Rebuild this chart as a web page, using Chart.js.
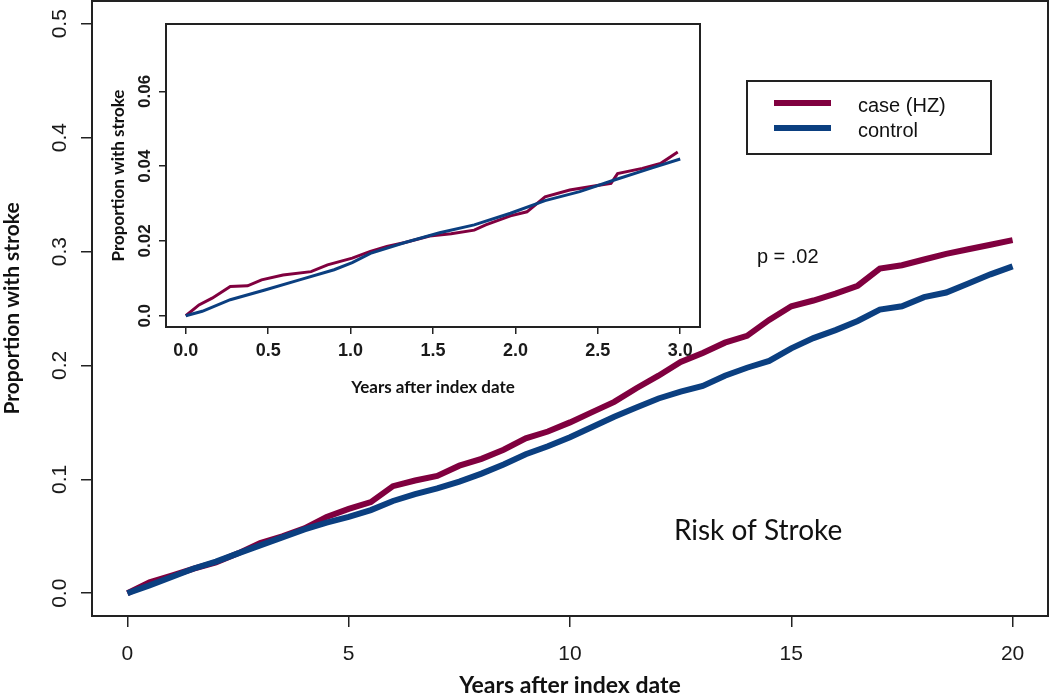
<!DOCTYPE html>
<html>
<head>
<meta charset="utf-8">
<title>Risk of Stroke</title>
<script src="https://cdn.jsdelivr.net/npm/chart.js@4.4.1/dist/chart.umd.min.js"></script>
<style>
    body { margin: 0; background: #fff; }
    #wrap { position: relative; width: 1050px; height: 697px; }
    #main { position: absolute; left: 0; top: 0; }
    #inset { position: absolute; left: 100px; top: 15px; }
</style>
</head>
<body>
<div id="wrap">
    <canvas id="main" width="1050" height="697"></canvas>
    <canvas id="inset" width="610" height="390"></canvas>
</div>
<script>
// main plot, 0-20 years
const years = [0, 0.5, 1, 1.5, 2, 2.5, 3, 3.5, 4, 4.5, 5, 5.5, 6, 6.5, 7, 7.5, 8, 8.5, 9, 9.5,
    10, 10.5, 11, 11.5, 12, 12.5, 13, 13.5, 14, 14.5, 15, 15.5, 16, 16.5, 17, 17.5, 18, 18.5, 19, 19.5, 20];
const caseHZ = [0, 0.0096, 0.0154, 0.0215, 0.027, 0.035, 0.044, 0.050, 0.057, 0.067, 0.074, 0.080, 0.094, 0.099,
    0.103, 0.112, 0.118, 0.126, 0.136, 0.142, 0.150, 0.159, 0.168, 0.180, 0.191, 0.203, 0.211, 0.220, 0.226,
    0.240, 0.252, 0.257, 0.263, 0.270, 0.285, 0.288, 0.293, 0.298, 0.302, 0.306, 0.310];
const control = [0, 0.0069, 0.0142, 0.0217, 0.0277, 0.035, 0.042, 0.049, 0.056, 0.062, 0.067, 0.073, 0.081, 0.087,
    0.092, 0.098, 0.105, 0.113, 0.122, 0.129, 0.137, 0.146, 0.155, 0.163, 0.171, 0.177, 0.182, 0.191, 0.198,
    0.204, 0.215, 0.224, 0.231, 0.239, 0.249, 0.252, 0.260, 0.264, 0.272, 0.280, 0.287];

// inset, first 3 years
const insetCaseYears = [0, 0.08, 0.16, 0.27, 0.375, 0.46, 0.59, 0.76, 0.86, 1.01, 1.12, 1.22, 1.33, 1.48, 1.61,
    1.75, 1.82, 1.97, 2.07, 2.18, 2.33, 2.45, 2.58, 2.62, 2.77, 2.88, 2.985];
const insetCase = [0, 0.0029, 0.0047, 0.0078, 0.008, 0.0096, 0.0109, 0.0118, 0.0136, 0.0154, 0.0172, 0.0185,
    0.0196, 0.0213, 0.0219, 0.0229, 0.0243, 0.0267, 0.0278, 0.0318, 0.0336, 0.0345, 0.0354, 0.038, 0.0394,
    0.0407, 0.0438];
const insetCtrlYears = [0, 0.1, 0.27, 0.48, 0.69, 0.9, 1.01, 1.12, 1.33, 1.54, 1.75, 1.97, 2.18, 2.39, 2.6, 2.82, 3.0];
const insetCtrl = [0, 0.0012, 0.0043, 0.0069, 0.0096, 0.0123, 0.0142, 0.0167, 0.0196, 0.0222, 0.0243, 0.0274,
    0.0308, 0.0332, 0.0363, 0.0394, 0.0419];

const xTicks = [0, 5, 10, 15, 20];
const yTicks = [0, 0.1, 0.2, 0.3, 0.4, 0.5];
const insetXTicks = [0, 0.5, 1, 1.5, 2, 2.5, 3];
const insetYTicks = [0, 0.02, 0.04, 0.06];

const seriesNames = ["case (HZ)", "control"];
const CASE_COLOR = "#80003f";
const CTRL_COLOR = "#0b3f80";

function pts(xs, ys) {
    return xs.map((x, i) => ({ x: x, y: ys[i] }));
}

function makeAxis(min, max, ticks, fmt, o) {
    return {
        type: "linear",
        min: min,
        max: max,
        afterBuildTicks: s => { s.ticks = ticks.map(v => ({ value: v })); },
        afterFit: s => {
            if (o.width) s.width = o.width;
            if (o.height) s.height = o.height;
            // no extra room for end labels, plot box is placed by layout padding
            s.paddingTop = 0;
            s.paddingBottom = 0;
            s.paddingLeft = 0;
            s.paddingRight = 0;
        },
        border: { display: false },
        grid: {
            drawOnChartArea: false,
            drawTicks: true,
            tickLength: o.tickLength,
            color: "#222",
            lineWidth: 1.5
        },
        ticks: {
            autoSkip: false,
            minRotation: o.rotate ? 90 : 0,
            maxRotation: o.rotate ? 90 : 0,
            crossAlign: o.rotate ? "center" : "near",
            padding: o.pad,
            color: "#1a1a1a",
            font: o.font,
            callback: v => fmt(v)
        },
        title: {
            display: true,
            text: o.title,
            color: "#111",
            font: o.titleFont,
            padding: o.titlePad
        }
    };
}

const boxPlugin = {
    id: "box",
    afterDraw(chart) {
        const a = chart.chartArea;
        const ctx = chart.ctx;
        ctx.save();
        ctx.strokeStyle = "#222";
        ctx.lineWidth = 2;
        ctx.strokeRect(a.left, a.top, a.right - a.left, a.bottom - a.top);
        ctx.restore();
    }
};

const notesPlugin = {
    id: "notes",
    afterDraw(chart) {
        const ctx = chart.ctx;
        ctx.save();

        // legend box
        ctx.strokeStyle = "#222";
        ctx.lineWidth = 2;
        ctx.strokeRect(747, 81, 244, 73);
        chart.data.datasets.forEach((ds, i) => {
            const y = 103 + i * 25;
            ctx.strokeStyle = ds.borderColor;
            ctx.lineWidth = 6;
            ctx.beginPath();
            ctx.moveTo(774, y);
            ctx.lineTo(831, y);
            ctx.stroke();
            ctx.fillStyle = "#111";
            ctx.font = "20px 'Liberation Sans', Arial, sans-serif";
            ctx.textAlign = "left";
            ctx.textBaseline = "middle";
            ctx.fillText(ds.label, 858, y + 3);
        });

        const xs = chart.scales.x, ys = chart.scales.y;
        ctx.fillStyle = "#111";
        ctx.textAlign = "center";
        ctx.textBaseline = "middle";
        ctx.font = "20px 'Liberation Sans', Arial, sans-serif";
        ctx.fillText("p = .02", xs.getPixelForValue(14.92), ys.getPixelForValue(0.295));
        ctx.font = "28px Lato, sans-serif";
        ctx.fillText("Risk of Stroke", xs.getPixelForValue(14.25), ys.getPixelForValue(0.055));
        ctx.restore();
    }
};

new Chart(document.getElementById("main"), {
    type: "line",
    data: {
        datasets: [
            {
                label: seriesNames[0],
                data: pts(years, caseHZ),
                borderColor: CASE_COLOR,
                borderWidth: 6,
                pointRadius: 0,
                order: 1
            },
            {
                label: seriesNames[1],
                data: pts(years, control),
                borderColor: CTRL_COLOR,
                borderWidth: 6,
                pointRadius: 0,
                order: 0
            }
        ]
    },
    options: {
        responsive: false,
        animation: false,
        devicePixelRatio: 1,
        layout: { padding: { top: 1, right: 2, left: 0, bottom: 0 } },
        scales: {
            x: makeAxis(-0.8, 20.8, xTicks, v => String(v), {
                height: 81, tickLength: 11, pad: 15,
                font: { family: "'Liberation Sans', Arial, sans-serif", size: 21 },
                title: "Years after index date",
                titleFont: { family: "Lato, sans-serif", size: 23, weight: "bold" },
                titlePad: { top: 0, bottom: -2 }
            }),
            y: makeAxis(-0.02, 0.52, yTicks, v => v.toFixed(1), {
                width: 92, tickLength: 11, pad: 6, rotate: true,
                font: { family: "'Liberation Sans', Arial, sans-serif", size: 21 },
                title: "Proportion with stroke",
                titleFont: { family: "Lato, sans-serif", size: 21, weight: "bold" },
                titlePad: { top: 0, bottom: 0 }
            })
        },
        plugins: {
            legend: { display: false },
            tooltip: { enabled: false }
        }
    },
    plugins: [boxPlugin, notesPlugin]
});

new Chart(document.getElementById("inset"), {
    type: "line",
    data: {
        datasets: [
            {
                label: seriesNames[0],
                data: pts(insetCaseYears, insetCase),
                borderColor: CASE_COLOR,
                borderWidth: 3,
                pointRadius: 0,
                order: 1
            },
            {
                label: seriesNames[1],
                data: pts(insetCtrlYears, insetCtrl),
                borderColor: CTRL_COLOR,
                borderWidth: 3,
                pointRadius: 0,
                order: 0
            }
        ]
    },
    options: {
        responsive: false,
        animation: false,
        devicePixelRatio: 1,
        layout: { padding: { top: 9, right: 10, left: 0, bottom: 0 } },
        scales: {
            x: makeAxis(-0.12, 3.12, insetXTicks, v => v.toFixed(1), {
                height: 78, tickLength: 7, pad: 6,
                font: { family: "'Liberation Sans', Arial, sans-serif", size: 18, weight: "bold" },
                title: "Years after index date",
                titleFont: { family: "Lato, sans-serif", size: 17, weight: "bold" },
                titlePad: { top: 0, bottom: 7 }
            }),
            y: makeAxis(-0.003, 0.078, insetYTicks, v => v === 0 ? "0.0" : v.toFixed(2), {
                width: 66, tickLength: 7, pad: -3, rotate: true,
                font: { family: "'Liberation Sans', Arial, sans-serif", size: 17, weight: "bold" },
                title: "Proportion with stroke",
                titleFont: { family: "Lato, sans-serif", size: 17, weight: "bold" },
                titlePad: { top: 8, bottom: 0 }
            })
        },
        plugins: {
            legend: { display: false },
            tooltip: { enabled: false }
        }
    },
    plugins: [boxPlugin]
});
</script>
</body>
</html>
